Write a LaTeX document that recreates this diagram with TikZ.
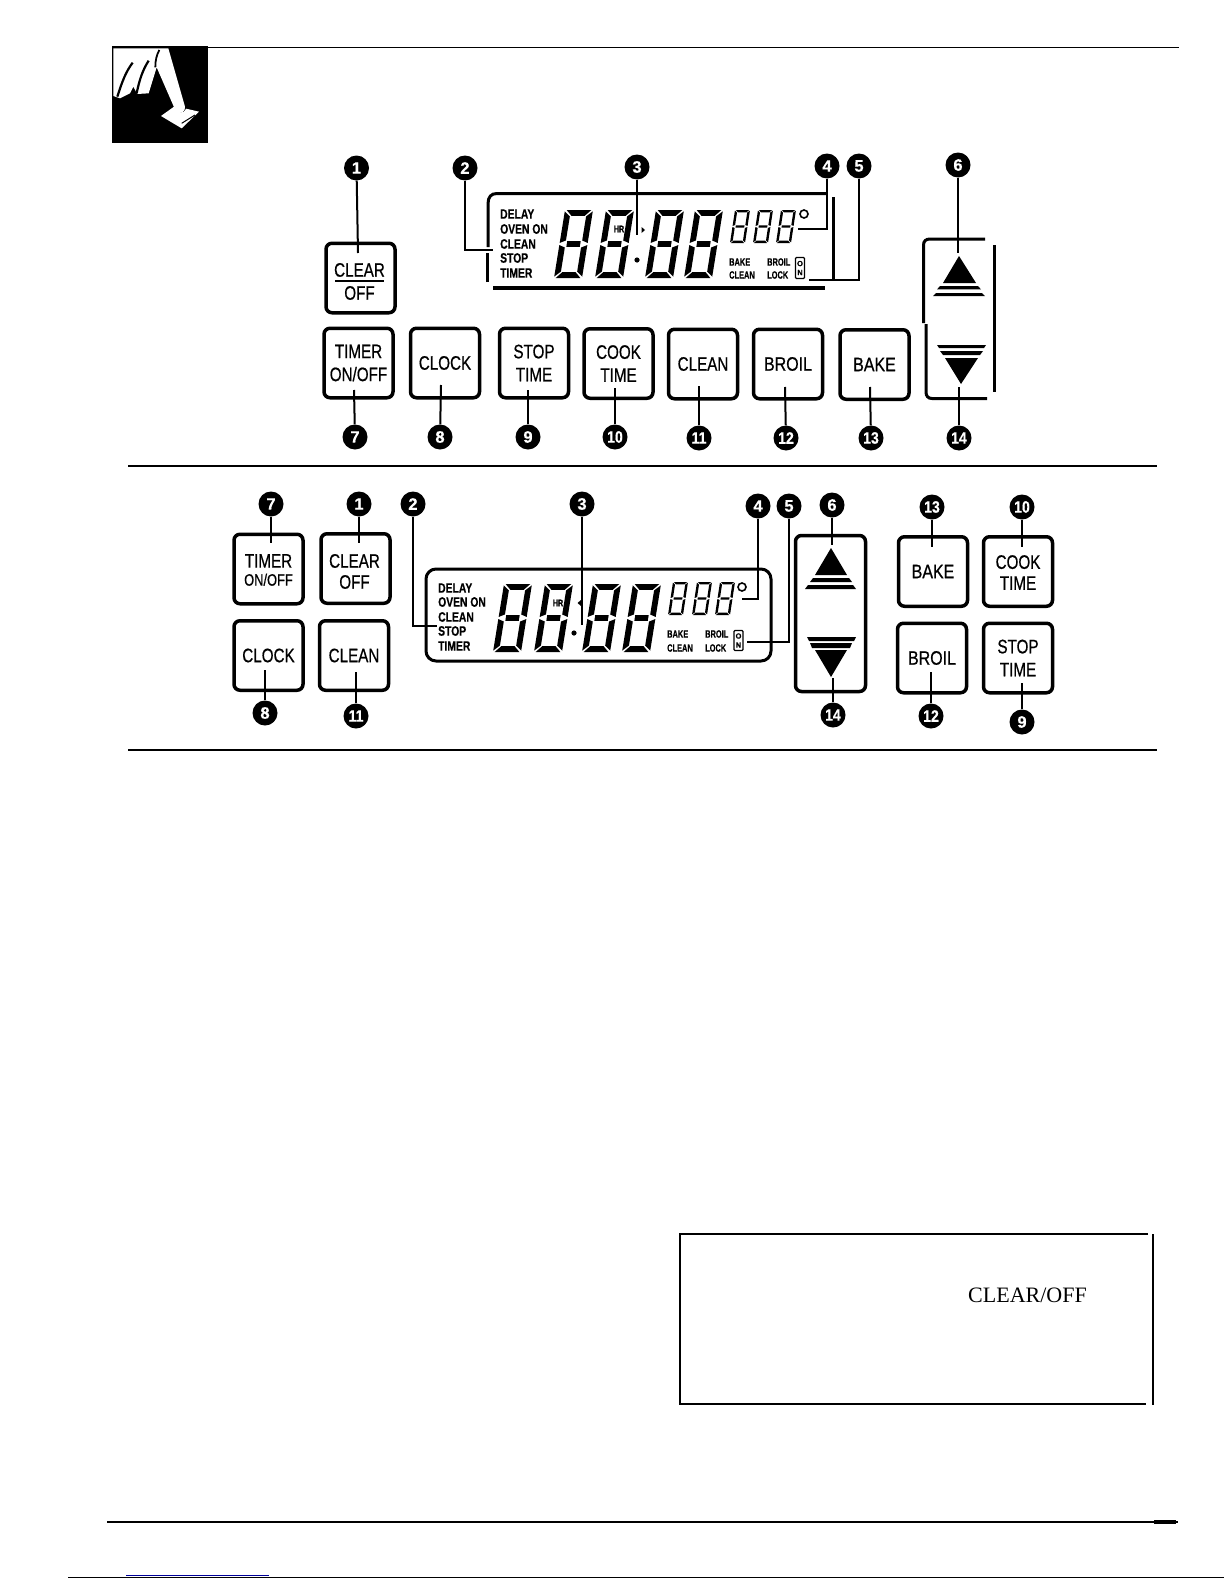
\documentclass[tikz,border=0pt]{standalone}
\usepackage{fontspec}
\usepackage{graphicx}
\setmainfont{Liberation Sans}[BoldFeatures={FakeBold=0.5}]
\newfontfamily\timesface{Liberation Serif}
\newfontfamily\btnface{Liberation Sans}[FakeBold=0.7]
\usetikzlibrary{calc}
\newcommand\sq[2][0.78]{\scalebox{#1}[1]{#2}}
\tikzset{
  btn/.style={draw=black,line width=3.5pt,rounded corners=6pt,minimum width=#1,minimum height=69.5pt,inner sep=0pt,align=center,
     font=\btnface\fontsize{19.5}{23}\selectfont},
  btn/.default=69pt,
  btntext/.style={inner sep=0pt,align=center,font=\btnface\fontsize{19.5}{21}\selectfont},
  calloutnum/.style={circle,fill=black,text=white,minimum size=25pt,inner sep=0pt,font=\fontsize{16.5}{16.5}\selectfont\bfseries},
  lead/.style={draw=black,line width=2pt},
  lcdbar/.style={draw=black,line width=3pt},
  lcdlab/.style={anchor=west,inner sep=0pt,font=\fontsize{13.6}{14}\selectfont\bfseries},
  lcdsmall/.style={anchor=west,inner sep=0pt,font=\fontsize{10.6}{11}\selectfont\bfseries},
  rulethin/.style={draw=black,line width=1.1pt},
  box/.style={draw=black,line width=1.6pt},
}
% seven segment digit: lower-left x,y, width, height, skew, tx, ty
\newcommand\segdigit[7]{%
 \begin{scope}[shift={(#1,#2)},x={(#3pt,0pt)},y={(#5pt,#4pt)}]
  \def\tx{#6}\def\ty{#7}
  \pgfmathsetmacro\rx{1-\tx}\pgfmathsetmacro\ry{1-\ty}
  \pgfmathsetmacro\mhi{0.5+\ty/2}\pgfmathsetmacro\mlo{0.5-\ty/2}
  \pgfmathsetmacro\gxl{\tx+0.05}\pgfmathsetmacro\gxr{\rx-0.05}
  \fill (0.06,1) -- (0.94,1) -- (\gxr,\ry) -- (\gxl,\ry) -- cycle;
  \fill (0.06,0) -- (0.94,0) -- (\gxr,\ty) -- (\gxl,\ty) -- cycle;
  \fill (\gxl,\mhi) -- (\gxr,\mhi) -- (\gxr,\mlo) -- (\gxl,\mlo) -- cycle;
  \fill (0,0.98) -- (\tx,\ry-0.01) -- (\tx,\mhi+0.01) -- (0,0.515) -- cycle;
  \fill (0,0.02) -- (\tx,\ty+0.01) -- (\tx,\mlo-0.01) -- (0,0.485) -- cycle;
  \fill (1,0.98) -- (\rx,\ry-0.01) -- (\rx,\mhi+0.01) -- (1,0.515) -- cycle;
  \fill (1,0.02) -- (\rx,\ty+0.01) -- (\rx,\mlo-0.01) -- (1,0.485) -- cycle;
 \end{scope}}
\newcommand\bigdigit[2]{\segdigit{#1}{#2}{28}{68}{11}{0.21}{0.085}}
\newcommand\smalldigit[2]{\segdigit{#1}{#2}{15}{33}{5}{0.16}{0.07}}
\begin{document}
\begin{tikzpicture}[x=1pt,y=-1pt]
\useasboundingbox (0,0) rectangle (1224,1584);

% ---------- page furniture
\draw[rulethin] (112,47.5) -- (1179,47.5);
\draw[rulethin] (128,466) -- (1157,466);
\draw[rulethin] (128,750) -- (1157,750);
\draw[rulethin] (107,1522) -- (1178,1522);
\draw[draw=black,line width=2.2pt] (672,1522) -- (1154,1522);
\fill (1154,1520) rectangle (1176,1524);
\draw[rulethin] (68,1577.5) -- (1224,1577.5);
\draw[draw=blue!60!black,line width=1.1pt] (126,1575.5) -- (269,1575.5);

% ---------- icon
\fill (112,46) rectangle (208,143);
\begin{scope}[shift={(100,30)},x=0.3333pt,y=-0.3333pt]
  \fill[white] (40,55) -- (205,55) -- (255,230) .. controls (258,245) and (240,255) .. (228,245)
     -- (170,112) -- (146,190) -- (112,192) -- (100,170) -- (90,190) -- (60,205) -- (40,198) -- cycle;
  \draw[line width=2.2pt] (52,200) .. controls (68,150) and (78,125) .. (98,98);
  \draw[line width=2.2pt] (110,190) .. controls (118,150) and (128,120) .. (146,92);
  \draw[line width=1.8pt] (166,112) .. controls (166,90) and (170,75) .. (178,60);
  \fill[white] (183,258) -- (225,228) .. controls (232,250) and (250,255) .. (258,236) -- (297,245) -- (245,295) -- cycle;
  \draw[line width=1pt] (245,280) -- (285,255);
\end{scope}

% ---------- top panel: buttons
\node[btn] (bClear) at (360.5,278) {};
\node[btntext] (bClearTxt) at (359.5,281.5) {\sq{CLEAR}\\[2pt]\sq{OFF}};
\draw[line width=1.6pt] (335,281) -- (384,281);
\node[btn] (bTimer) at (358.5,363) {\sq{TIMER}\\\sq{ON/OFF}};
\node[btn] (bClock) at (445,363) {\sq{CLOCK}};
\node[btn] (bStop) at (534,363) {\sq{STOP}\\\sq{TIME}};
\node[btn] (bCook) at (618.5,363.5) {\sq{COOK}\\\sq{TIME}};
\node[btn] (bClean) at (703,364) {\sq{CLEAN}};
\node[btn] (bBroil) at (788,364) {\sq[0.82]{BROIL}};
\node[btn] (bBake) at (874.5,364.5) {\sq[0.82]{BAKE}};

% top panel: arrow box
\draw[lcdbar] (985,239) -- (930,239) .. controls (926,239) and (923.5,241) .. (923.5,245) -- (923.5,323);
\draw[lcdbar] (926,324) -- (926,392) .. controls (926,396) and (928,398.5) .. (932,398.5) -- (987,398.5);
\draw[lcdbar] (994,245) -- (994,392);
\coordinate (upApexT) at (959,256);
\coordinate (dnApexT) at (961,384);
\fill (upApexT) -- (976,283) -- (943,283) -- cycle;
\fill (940,286) -- (978,286) -- (981,289.4) -- (937,289.4) -- cycle;
\fill (936,293) -- (982,293) -- (985,296.2) -- (933,296.2) -- cycle;
\fill (937,345) -- (986,345) -- (984,348) -- (939,348) -- cycle;
\fill (940,351) -- (983,351) -- (980,355) -- (943,355) -- cycle;
\fill (945,358) -- (978,358) -- (dnApexT) -- cycle;

% top panel: LCD frame
\draw[lcdbar] (487,282) -- (487,253);
\draw[lcdbar] (488,247) -- (488,204) .. controls (488,197) and (491,193.5) .. (497,193.5) -- (827,193.5);
\draw[line width=4pt] (493,288) -- (825,288);
\draw[lcdbar] (833,197) -- (833,280);

% top panel: LCD contents
\node[lcdlab] (tDelay) at (500,214) {\sq[0.76]{DELAY}};
\node[lcdlab] (tOven) at (500,229) {\sq[0.76]{OVEN ON}};
\node[lcdlab] (tClean) at (500,244) {\sq[0.76]{CLEAN}};
\node[lcdlab] (tStop) at (500,258) {\sq[0.76]{STOP}};
\node[lcdlab] (tTimer) at (500,273) {\sq[0.76]{TIMER}};
\bigdigit{554}{278}\bigdigit{595}{278}\bigdigit{645}{278}\bigdigit{684}{278}
\node[inner sep=0pt,font=\fontsize{9.5}{10}\selectfont\bfseries] (tHr) at (619,229) {\sq[0.75]{HR}};
\fill (637,260) circle (2.6);
\fill (641.5,227) -- (645,230) -- (641.5,233) -- cycle;
\smalldigit{730}{243}\smalldigit{753}{243}\smalldigit{776}{243}
\node[circle,draw=black,line width=1.6pt,minimum size=8pt,inner sep=0pt] (tDeg) at (804,214) {};
\node[lcdsmall] (tBake) at (729,262) {\sq[0.7]{BAKE}};
\node[lcdsmall] (tCl) at (729,275) {\sq[0.7]{CLEAN}};
\node[lcdsmall] (tBroil) at (767,262) {\sq[0.7]{BROIL}};
\node[lcdsmall] (tLock) at (767,275) {\sq[0.7]{LOCK}};
\node[draw=black,line width=1.1pt,rounded corners=1pt,minimum width=9pt,minimum height=21pt,inner sep=0pt,align=center,font=\fontsize{7.5}{9}\selectfont\bfseries] (tOn) at (800,268) {O\\N};

% top panel: callouts
\node[calloutnum] (t1) at (356.5,168) {1};
\node[calloutnum] (t2) at (465,168) {2};
\node[calloutnum] (t3) at (637,167) {3};
\node[calloutnum] (t4) at (827,166) {4};
\node[calloutnum] (t5) at (859,166) {5};
\node[calloutnum] (t6) at (958,165) {6};
\node[calloutnum] (t7) at (355,437) {7};
\node[calloutnum] (t8) at (440,437) {8};
\node[calloutnum] (t9) at (528,437) {9};
\node[calloutnum] (t10) at (615,437) {\sq[0.85]{10}};
\node[calloutnum] (t11) at (699,438) {\sq[0.85]{11}};
\node[calloutnum] (t12) at (786,438) {\sq[0.85]{12}};
\node[calloutnum] (t13) at (871,438) {\sq[0.85]{13}};
\node[calloutnum] (t14) at (959,438) {\sq[0.85]{14}};
\coordinate (e1) at (358,253);
\coordinate (e2) at (493,250);
\coordinate (e3) at (637,235);
\coordinate (e4) at (798,229);
\coordinate (e5) at (809,280);
\coordinate (e6) at (958,253);
\coordinate (e7) at (354,390);
\coordinate (e8) at (441,385);
\coordinate (e9) at (528,390);
\coordinate (e10) at (615,388);
\coordinate (e11) at (699,386);
\coordinate (e12) at (785,387);
\coordinate (e13) at (870,387);
\coordinate (e14) at (959,387);
\draw[lead] (t1) -- (e1);
\draw[lead] (t2) |- (e2);
\draw[lead] (t3) -- (e3);
\draw[lead] (t4) |- (e4);
\draw[lead] (t5) |- (e5);
\draw[lead] (t6) -- (e6);
\draw[lead] (t7) -- (e7);
\draw[lead] (t8) -- (e8);
\draw[lead] (t9) -- (e9);
\draw[lead] (t10) -- (e10);
\draw[lead] (t11) -- (e11);
\draw[lead] (t12) -- (e12);
\draw[lead] (t13) -- (e13);
\draw[lead] (t14) -- (e14);

% ---------- lower panel: buttons
\node[btn] (lTimer) at (268.5,569) {};
\node[btntext] (lTimerTxt) at (268.5,570) {\sq{TIMER}\\[-3pt]{\fontsize{16.5}{18}\selectfont\sq{ON/OFF}}};
\node[btn] (lClear) at (355.5,568.5) {};
\node[btntext] (lClearTxt) at (354.5,571.5) {\sq{CLEAR}\\\sq{OFF}};
\node[btn] (lClock) at (268.5,655.5) {\sq{CLOCK}};
\node[btn] (lClean) at (354,655.5) {\sq{CLEAN}};
\node[btn] (lBake) at (933,571.5) {\sq[0.82]{BAKE}};
\node[btn] (lCook) at (1018,571.5) {};
\node[btntext] (lCookTxt) at (1018,572.5) {\sq{COOK}\\\sq{TIME}};
\node[btn] (lBroil) at (932,658) {\sq[0.82]{BROIL}};
\node[btn] (lStop) at (1018,658) {\sq{STOP}\\\sq{TIME}};
\node[draw=black,line width=3.5pt,rounded corners=6pt,minimum width=70pt,minimum height=156pt,inner sep=0pt] (lArrow) at (830.5,613.5) {};
\coordinate (upApexL) at (831,548);
\coordinate (dnApexL) at (831,677);
\fill (upApexL) -- (847,575) -- (815,575) -- cycle;
\fill (813,578) -- (849,578) -- (852,582) -- (810,582) -- cycle;
\fill (808,585) -- (853,585) -- (856,589) -- (805,589) -- cycle;
\fill (807,637) -- (856,637) -- (854,641) -- (809,641) -- cycle;
\fill (810,643) -- (852,643) -- (850,648) -- (812,648) -- cycle;
\fill (815,650) -- (847,650) -- (dnApexL) -- cycle;

% lower panel: LCD
\node[draw=black,line width=3pt,rounded corners=10pt,minimum width=345pt,minimum height=92pt,inner sep=0pt] (lLcd) at (598.5,615) {};
\node[lcdlab] (lDelay) at (438,588) {\sq[0.76]{DELAY}};
\node[lcdlab] (lOven) at (438,602) {\sq[0.76]{OVEN ON}};
\node[lcdlab] (lCln) at (438,617) {\sq[0.76]{CLEAN}};
\node[lcdlab] (lStp) at (438,631) {\sq[0.76]{STOP}};
\node[lcdlab] (lTmr) at (438,646) {\sq[0.76]{TIMER}};
\bigdigit{493}{652}\bigdigit{534}{652}\bigdigit{582}{652}\bigdigit{622}{652}
\node[inner sep=0pt,font=\fontsize{9.5}{10}\selectfont\bfseries] (lHr) at (558,603) {\sq[0.75]{HR}};
\fill (574,633) circle (2.6);
\fill (581,600) -- (577.5,603) -- (581,606) -- cycle;
\smalldigit{668}{615}\smalldigit{692}{615}\smalldigit{715}{615}
\node[circle,draw=black,line width=1.6pt,minimum size=8pt,inner sep=0pt] (lDeg) at (742,587) {};
\node[lcdsmall] (lBk) at (667,634) {\sq[0.7]{BAKE}};
\node[lcdsmall] (lCl) at (667,648) {\sq[0.7]{CLEAN}};
\node[lcdsmall] (lBr) at (705,634) {\sq[0.7]{BROIL}};
\node[lcdsmall] (lLk) at (705,648) {\sq[0.7]{LOCK}};
\node[draw=black,line width=1.1pt,rounded corners=1pt,minimum width=9pt,minimum height=20pt,inner sep=0pt,align=center,font=\fontsize{7.5}{9}\selectfont\bfseries] (lOn) at (738.5,640.5) {O\\N};

% lower panel: callouts
\node[calloutnum] (m7) at (271,504) {7};
\node[calloutnum] (m1) at (359,504) {1};
\node[calloutnum] (m2) at (413,504) {2};
\node[calloutnum] (m3) at (582,504) {3};
\node[calloutnum] (m4) at (758,506) {4};
\node[calloutnum] (m5) at (789,506) {5};
\node[calloutnum] (m6) at (832,505) {6};
\node[calloutnum] (m13) at (932,507) {\sq[0.85]{13}};
\node[calloutnum] (m10) at (1022,507) {\sq[0.85]{10}};
\node[calloutnum] (m8) at (265,713) {8};
\node[calloutnum] (m11) at (356,716) {\sq[0.85]{11}};
\node[calloutnum] (m14) at (833,715) {\sq[0.85]{14}};
\node[calloutnum] (m12) at (931,716) {\sq[0.85]{12}};
\node[calloutnum] (m9) at (1022,722) {9};
\coordinate (f7) at (271,543);
\coordinate (f1) at (359,543);
\coordinate (f2) at (437,626);
\coordinate (f3) at (582,625);
\coordinate (f4) at (742,599);
\coordinate (f5) at (747,642);
\coordinate (f6) at (832,545);
\coordinate (f13) at (932,547);
\coordinate (f10) at (1022,547);
\coordinate (f8) at (265,670);
\coordinate (f11) at (356,672);
\coordinate (f14) at (833,678);
\coordinate (f12) at (931,672);
\coordinate (f9) at (1022,683);
\draw[lead] (m7) -- (f7);
\draw[lead] (m1) -- (f1);
\draw[lead] (m2) |- (f2);
\draw[lead] (m3) -- (f3);
\draw[lead] (m4) |- (f4);
\draw[lead] (m5) |- (f5);
\draw[lead] (m6) -- (f6);
\draw[lead] (m13) -- (f13);
\draw[lead] (m10) -- (f10);
\draw[lead] (m8) -- (f8);
\draw[lead] (m11) -- (f11);
\draw[lead] (m14) -- (f14);
\draw[lead] (m12) -- (f12);
\draw[lead] (m9) -- (f9);

% ---------- note box
\draw[box] (1148,1234) -- (680,1234) -- (680,1404) -- (1146,1404);
\draw[draw=black,line width=1.2pt] (1153,1234) -- (1153,1405);
\node[anchor=base west,inner sep=0pt,font=\timesface\fontsize{22}{24}\selectfont] (noteTxt) at (968,1302) {CLEAR/OFF};
\end{tikzpicture}
\end{document}
